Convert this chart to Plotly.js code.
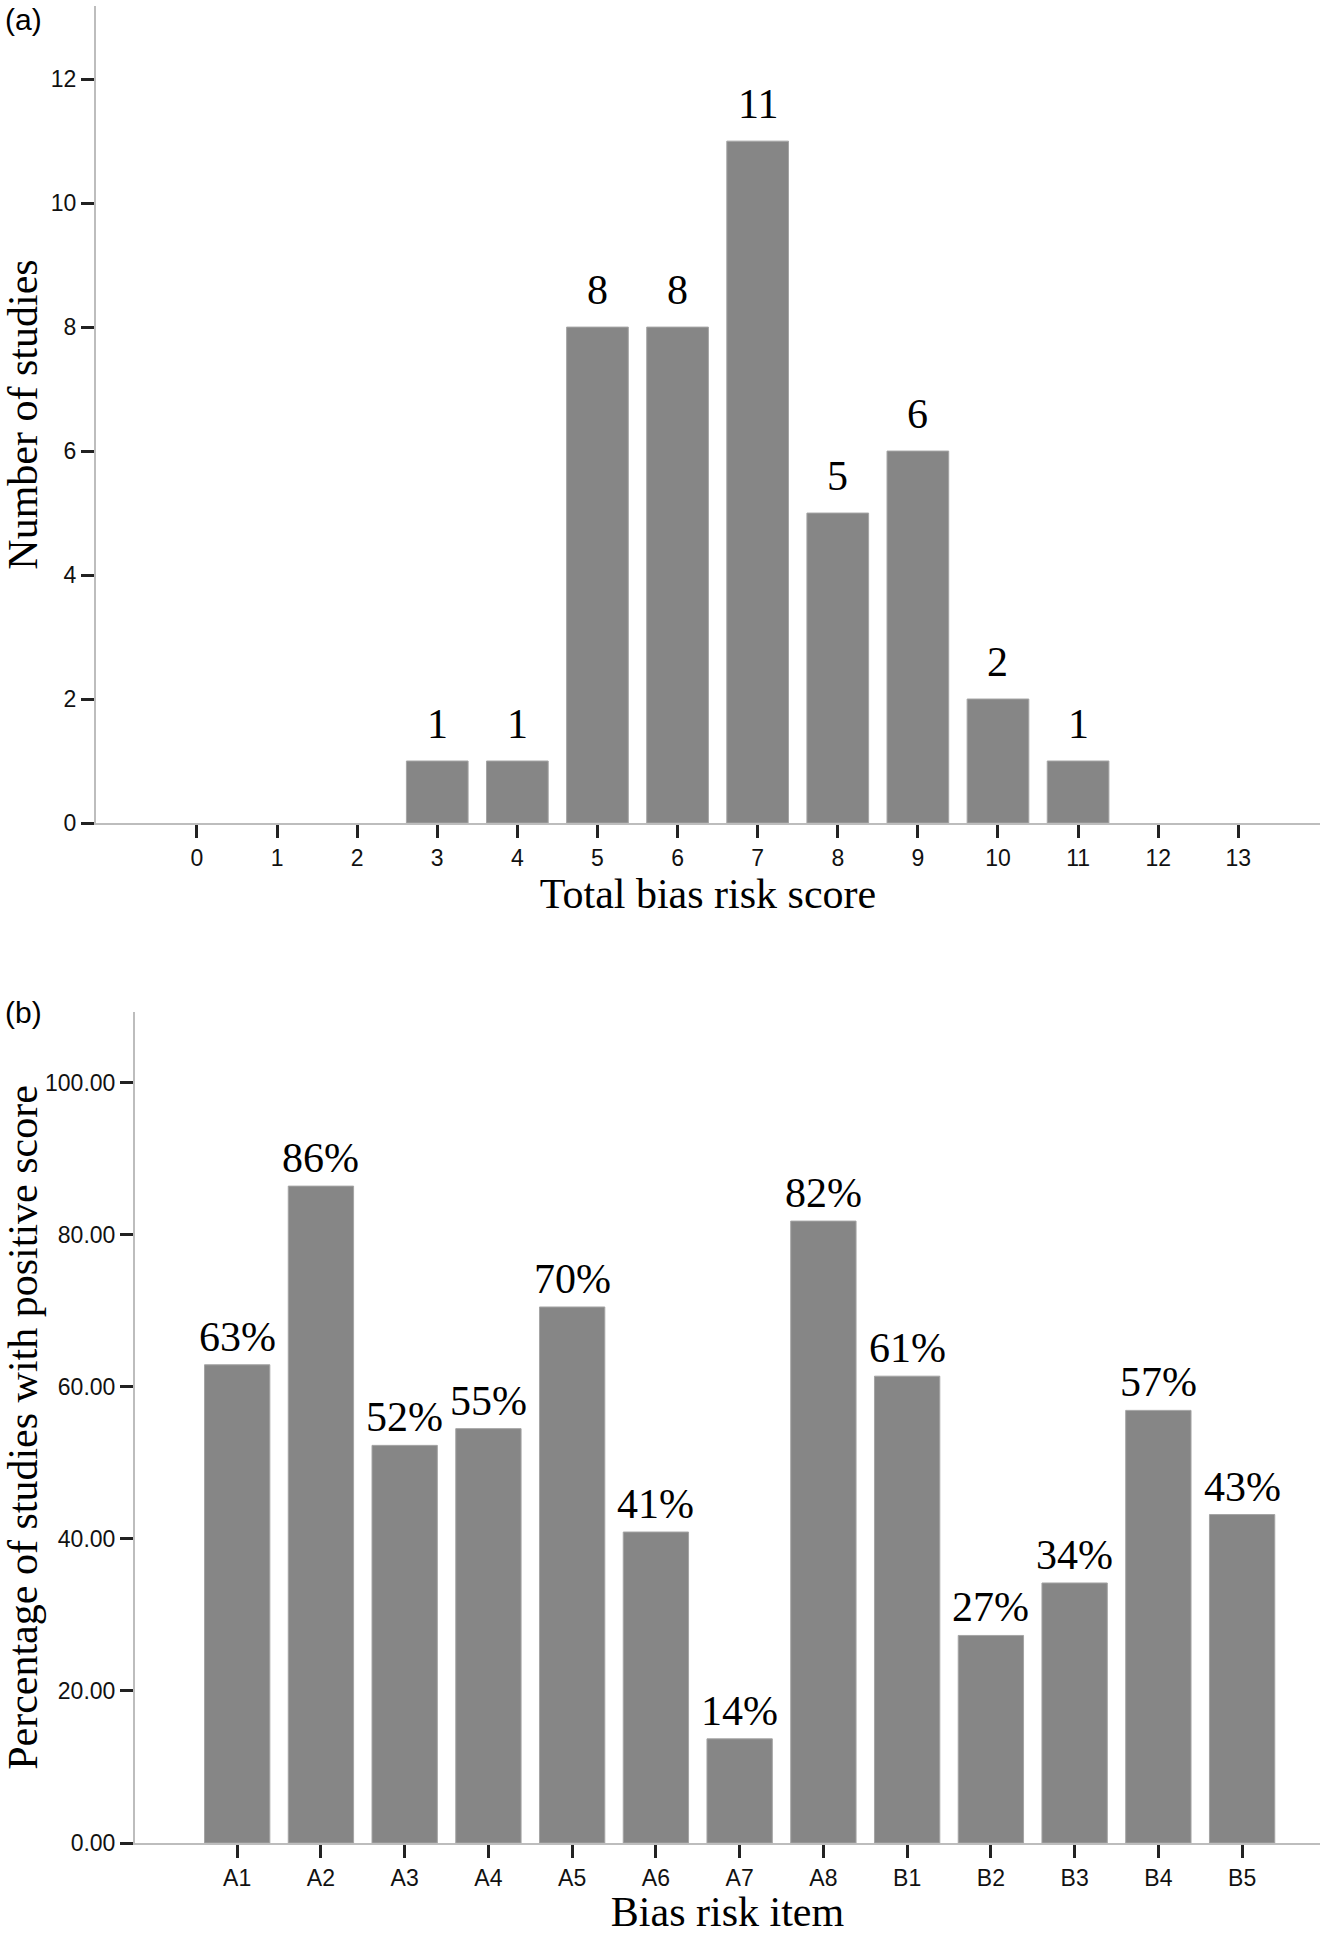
<!DOCTYPE html>
<html>
<head>
<meta charset="utf-8">
<script src="https://cdn.plot.ly/plotly-3.0.1.min.js"></script>
<style>
  html, body { margin: 0; padding: 0; background: #fff; }
  #chart { width: 1325px; height: 1935px; }
</style>
</head>
<body>
<div id="chart"></div>
<script>
// panel (a): studies per total bias risk score
const scores = [0, 1, 2, 3, 4, 5, 6, 7, 8, 9, 10, 11, 12, 13];
const studyCounts = [0, 0, 0, 1, 1, 8, 8, 11, 5, 6, 2, 1, 0, 0];
const countTicks = [0, 2, 4, 6, 8, 10, 12];

// panel (b): share of studies scoring positive per item
const items = ["A1", "A2", "A3", "A4", "A5", "A6", "A7", "A8", "B1", "B2", "B3", "B4", "B5"];
const positivePct = [62.9, 86.4, 52.3, 54.5, 70.5, 40.9, 13.7, 81.8, 61.4, 27.3, 34.2, 56.9, 43.2];
const pctLabels = ["63%", "86%", "52%", "55%", "70%", "41%", "14%", "82%", "61%", "27%", "34%", "57%", "43%"];
const pctTicks = [0, 20, 40, 60, 80, 100];

const W = 1325, H = 1935;
const SERIF = "Liberation Serif, Times New Roman, serif";
const SANS = "Liberation Sans, Arial, sans-serif";
const BAR = "#868686";

const px = (v) => v / W;
const py = (v) => 1 - v / H;

const axisBase = {
  showline: true,
  linecolor: "#bdbdbd",
  linewidth: 2,
  showgrid: false,
  zeroline: false,
  ticks: "outside",
  ticklen: 13,
  tickwidth: 3,
  tickcolor: "#222",
  tickfont: { family: SANS, size: 23, color: "#111" },
  automargin: false,
  fixedrange: true,
};

const traces = [
  {
    type: "bar",
    x: scores,
    y: studyCounts,
    width: 0.77,
    // no outline on empty scores so nothing shows on the baseline
    marker: { color: BAR, line: { color: "#a4a4a4", width: studyCounts.map((c) => (c ? 1 : 0)) } },
    xaxis: "x",
    yaxis: "y",
    hoverinfo: "x+y",
  },
  {
    type: "bar",
    x: items,
    y: positivePct,
    width: 0.78,
    marker: { color: BAR, line: { color: "#a4a4a4", width: 1 } },
    xaxis: "x2",
    yaxis: "y2",
    hoverinfo: "x+y",
  },
];

const annotations = [];
scores.forEach((s, i) => {
  if (!studyCounts[i]) return;
  annotations.push({
    xref: "x", yref: "y", x: s, y: studyCounts[i],
    text: String(studyCounts[i]), showarrow: false,
    xanchor: "center", yanchor: "bottom", yshift: 12,
    font: { family: SERIF, size: 42, color: "#000" },
  });
});
items.forEach((it, i) => {
  annotations.push({
    xref: "x2", yref: "y2", x: it, y: positivePct[i],
    text: pctLabels[i], showarrow: false,
    xanchor: "center", yanchor: "bottom", yshift: 3,
    font: { family: SERIF, size: 42, color: "#000" },
  });
});
annotations.push(
  { xref: "paper", yref: "paper", x: px(3), y: py(20), xanchor: "left", yanchor: "middle",
    text: "(a)", showarrow: false, font: { family: SANS, size: 30, color: "#000" } },
  { xref: "paper", yref: "paper", x: px(3), y: py(1013), xanchor: "left", yanchor: "middle",
    text: "(b)", showarrow: false, font: { family: SANS, size: 30, color: "#000" } }
);

const layout = {
  width: W,
  height: H,
  margin: { l: 0, r: 0, t: 0, b: 0 },
  paper_bgcolor: "#fff",
  plot_bgcolor: "#fff",
  showlegend: false,
  xaxis: {
    ...axisBase,
    domain: [px(96), px(1320)],
    anchor: "y",
    range: [-1.26, 14.02],
    tickmode: "array",
    tickvals: scores,
    ticktext: scores.map(String),
    title: { text: "Total bias risk score", font: { family: SERIF, size: 42, color: "#000" }, standoff: 6 },
  },
  yaxis: {
    ...axisBase,
    domain: [py(823), py(6)],
    anchor: "x",
    range: [0, 13.18],
    tickmode: "array",
    tickvals: countTicks,
    title: { text: "Number of studies", font: { family: SERIF, size: 42, color: "#000" }, standoff: 10 },
  },
  xaxis2: {
    ...axisBase,
    domain: [px(135), px(1320)],
    anchor: "y2",
    type: "category",
    range: [-1.22, 12.93],
    title: { text: "Bias risk item", font: { family: SERIF, size: 42, color: "#000" }, standoff: 12 },
  },
  yaxis2: {
    ...axisBase,
    domain: [py(1843), py(1012)],
    anchor: "x2",
    range: [0, 109.3],
    tickmode: "array",
    tickvals: pctTicks,
    tickformat: ".2f",
    title: { text: "Percentage of studies with positive score", font: { family: SERIF, size: 42, color: "#000" }, standoff: 2 },
  },
  annotations,
};

Plotly.newPlot("chart", traces, layout, { displayModeBar: false, responsive: false });
</script>
</body>
</html>
